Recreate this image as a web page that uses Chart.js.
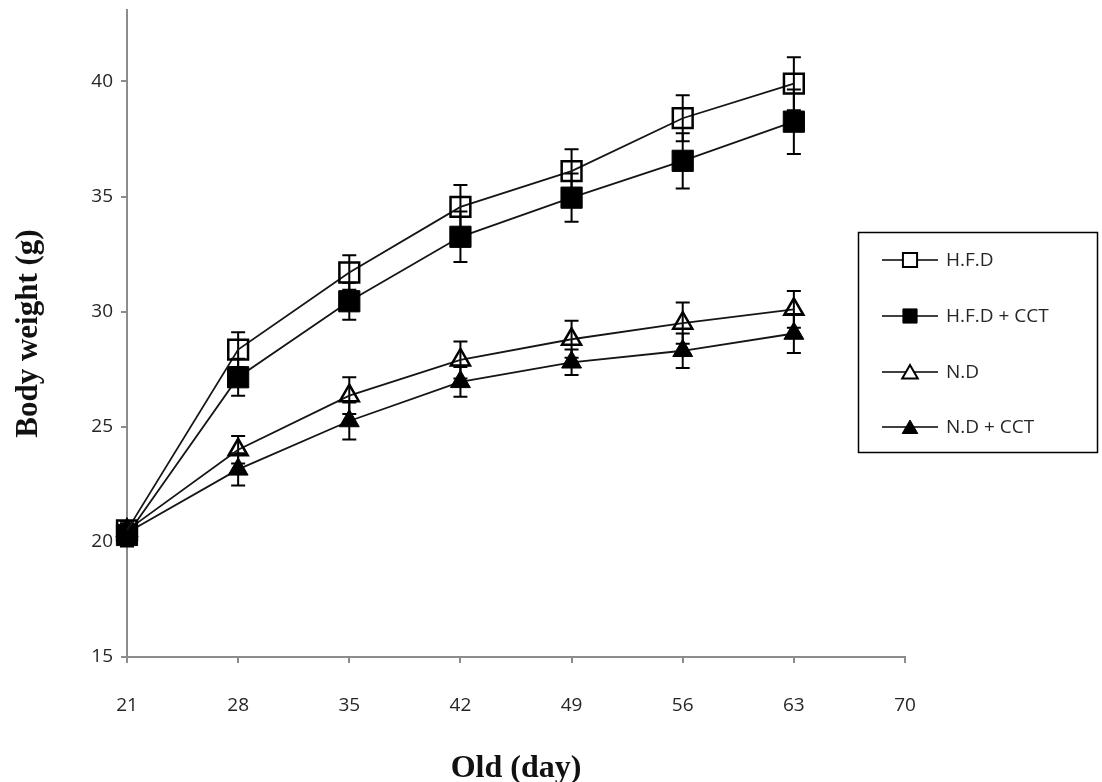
<!DOCTYPE html>
<html>
<head>
<meta charset="utf-8">
<script src="https://cdn.jsdelivr.net/npm/chart.js@4.4.1/dist/chart.umd.min.js"></script>
<style>
  html, body { margin: 0; padding: 0; background: #fff; }
</style>
</head>
<body>
<canvas id="chartPoids" width="1102" height="782"></canvas>
<script>
// Données
const jours     = [21, 28, 35, 42, 49, 56, 63];
const hfd       = [20.5, 28.35, 31.7, 34.55, 36.1, 38.4, 39.9];
const hfdCct    = [20.3, 27.15, 30.45, 33.25, 34.95, 36.55, 38.25];
const nd        = [20.5, 24.0, 26.35, 27.9, 28.8, 29.5, 30.1];
const ndCct     = [20.4, 23.15, 25.25, 26.95, 27.8, 28.3, 29.05];
const errHfd    = [0.4, 0.75, 0.75, 0.95, 0.95, 1.0, 1.15];
const errHfdCct = [0.5, 0.8, 0.8, 1.1, 1.05, 1.2, 1.4];
const errNd     = [0.4, 0.6, 0.8, 0.8, 0.8, 0.9, 0.8];
const errNdCct  = [0.5, 0.7, 0.8, 0.65, 0.55, 0.75, 0.85];
const noms      = ['H.F.D', 'H.F.D + CCT', 'N.D', 'N.D + CCT'];
const ticksX    = [21, 28, 35, 42, 49, 56, 63, 70];
const ticksY    = [15, 20, 25, 30, 35, 40];

const gris = '#8c8c8c';
const texte = '#262626';

const serie = (label, valeurs, erreurs, style, plein, rayon) => ({
  label,
  data: jours.map((j, i) => ({ x: j, y: valeurs[i] })),
  erreurs,
  plein,
  borderColor: '#151515',
  borderWidth: 1.8,
  pointStyle: style,
  pointRadius: rayon,
  pointHoverRadius: rayon,
  pointBackgroundColor: plein ? '#000' : 'rgba(0,0,0,0)',
  pointBorderColor: '#000',
  pointBorderWidth: plein ? 1 : 2.5,
  tension: 0,
  fill: false,
  clip: false
});

// barres d'erreur (dessinées sous les marqueurs)
const barresErreur = {
  id: 'barresErreur',
  beforeDatasetsDraw(chart) {
    const { ctx, scales: { x, y } } = chart;
    ctx.save();
    ctx.strokeStyle = '#000';
    ctx.lineWidth = 2;
    chart.data.datasets.forEach(ds => {
      ds.data.forEach((p, i) => {
        const e = ds.erreurs[i];
        const px = x.getPixelForValue(p.x);
        const haut = y.getPixelForValue(p.y + e);
        const bas = y.getPixelForValue(p.y - e);
        ctx.beginPath();
        ctx.moveTo(px, haut); ctx.lineTo(px, bas);
        ctx.moveTo(px - 7, haut); ctx.lineTo(px + 7, haut);
        ctx.moveTo(px - 7, bas); ctx.lineTo(px + 7, bas);
        ctx.stroke();
      });
    });
    ctx.restore();
  }
};

// légende encadrée à droite
const legende = {
  id: 'legende',
  afterDraw(chart) {
    const ctx = chart.ctx;
    const ys = [260, 316, 372, 427];
    ctx.save();
    ctx.strokeStyle = '#000';
    ctx.lineWidth = 1.5;
    ctx.strokeRect(858.5, 232.5, 239, 220);
    chart.data.datasets.forEach((ds, i) => {
      const yy = ys[i];
      ctx.strokeStyle = '#000';
      ctx.lineWidth = 1.5;
      ctx.beginPath();
      ctx.moveTo(882, yy); ctx.lineTo(938, yy);
      ctx.stroke();
      const rect = ds.pointStyle === 'rect';
      ctx.fillStyle = ds.plein ? '#000' : '#fff';
      ctx.lineWidth = ds.plein ? 1 : 2;
      Chart.helpers.drawPoint(ctx, {
        pointStyle: ds.pointStyle,
        radius: rect ? 10 : 9,
        borderWidth: ctx.lineWidth,
        rotation: 0
      }, 910, rect ? yy : yy + 2);
      ctx.fillStyle = texte;
      ctx.font = '19px "Open Sans"';
      ctx.textBaseline = 'middle';
      ctx.fillText(ds.label, 946, yy + 1);
    });
    ctx.restore();
  }
};

new Chart(document.getElementById('chartPoids'), {
  type: 'line',
  data: {
    datasets: [
      serie(noms[0], hfd, errHfd, 'rect', false, 14),
      serie(noms[1], hfdCct, errHfdCct, 'rect', true, 15),
      serie(noms[2], nd, errNd, 'triangle', false, 11),
      serie(noms[3], ndCct, errNdCct, 'triangle', true, 11.5)
    ]
  },
  options: {
    responsive: false,
    animation: false,
    devicePixelRatio: 1,
    layout: { autoPadding: false, padding: { top: 10, right: 197, left: 0, bottom: 0 } },
    plugins: { legend: { display: false }, tooltip: { enabled: false } },
    scales: {
      x: {
        type: 'linear',
        min: 21,
        max: 70,
        afterBuildTicks: s => { s.ticks = ticksX.map(v => ({ value: v })); },
        afterFit: s => { s.height = 125; },
        ticks: { font: { family: 'Open Sans', size: 19 }, color: texte, padding: 31, maxRotation: 0 },
        grid: { drawOnChartArea: false, drawTicks: true, tickLength: 6, color: gris, lineWidth: 2 },
        border: { color: gris, width: 2 },
        title: {
          display: true,
          text: 'Old (day)',
          font: { family: 'Liberation Serif', size: 32, weight: 'bold' },
          color: '#111',
          padding: { top: 0, bottom: -6 }
        }
      },
      y: {
        min: 15,
        max: 43.1,
        afterBuildTicks: s => { s.ticks = ticksY.map(v => ({ value: v })); },
        afterFit: s => { s.width = 127; s.paddingTop = 0; s.paddingBottom = 0; },
        ticks: { font: { family: 'Open Sans', size: 19 }, color: texte, padding: 8 },
        grid: { drawOnChartArea: false, drawTicks: true, tickLength: 6, color: gris, lineWidth: 2 },
        border: { color: gris, width: 2 },
        title: {
          display: true,
          text: 'Body weight (g)',
          font: { family: 'Liberation Serif', size: 31, weight: 'bold' },
          color: '#111',
          padding: { top: 10, bottom: 0 }
        }
      }
    }
  },
  plugins: [barresErreur, legende]
});
</script>
</body>
</html>
